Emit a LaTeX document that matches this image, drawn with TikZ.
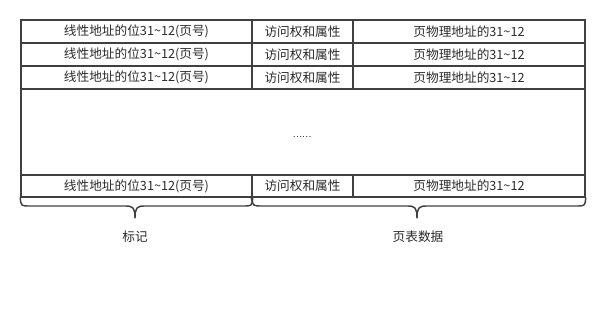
\documentclass[tikz,border=0pt]{standalone}
\usepackage{fontspec}
\setmainfont{Noto Sans CJK SC}
\definecolor{lc}{HTML}{404040}
\definecolor{tc}{HTML}{2a2a2a}
\begin{document}
\begin{tikzpicture}[x=0.75pt,y=-0.75pt,
  cell/.style={draw=lc, line width=1.1pt, inner sep=0pt, text=tc,
    font=\fontsize{9.5}{11}\selectfont},
  brace/.style={draw=lc, line width=1.1pt, line cap=round, line join=round},
  lbl/.style={text=tc, font=\fontsize{9.5}{11}\selectfont, inner sep=0pt}]
\useasboundingbox (0,0) rectangle (604,314);
% rows
\foreach \r/\yc in {1/31.5,2/54.5,3/77.5}{
  \node[cell, minimum width=231*0.75pt, minimum height=23*0.75pt] (a\r) at (136.5,\yc) {线性地址的位31\textasciitilde12(页号)};
  \node[cell, minimum width=101*0.75pt, minimum height=23*0.75pt] (b\r) at (302.5,\yc) {访问权和属性};
  \node[cell, minimum width=232*0.75pt, minimum height=23*0.75pt] (c\r) at (469,\yc) {页物理地址的31\textasciitilde12};
}
\node[cell, minimum width=564*0.75pt, minimum height=86*0.75pt] (mid) at (303,132) {};
\node[lbl, font=\fontsize{6.5}{8}\selectfont] (dots) at (302,137) {……};
\node[cell, minimum width=231*0.75pt, minimum height=22*0.75pt] (a4) at (136.5,186) {线性地址的位31\textasciitilde12(页号)};
\node[cell, minimum width=101*0.75pt, minimum height=22*0.75pt] (b4) at (302.5,186) {访问权和属性};
\node[cell, minimum width=232*0.75pt, minimum height=22*0.75pt] (c4) at (469,186) {页物理地址的31\textasciitilde12};
% braces
\coordinate (l1) at (a4.south west);
\coordinate (l2) at (a4.south east);
\coordinate (r1) at (b4.south west);
\coordinate (r2) at (c4.south east);
\draw[brace] (l1) .. controls (21,206) .. (30,206)
  -- (126,206) .. controls (133,206) and (135,208) .. (135,218)
  .. controls (135,208) and (137,206) .. (144,206)
  -- (243,206) .. controls (252,206) .. (l2);
\draw[brace] (r1) .. controls (253,206) .. (262,206)
  -- (408,206) .. controls (415,206) and (417,208) .. (417,218)
  .. controls (417,208) and (419,206) .. (426,206)
  -- (576,206) .. controls (585,206) .. (r2);
\node[lbl] (tag) at (135,237) {标记};
\node[lbl] (data) at (418,237) {页表数据};
\end{tikzpicture}
\end{document}
